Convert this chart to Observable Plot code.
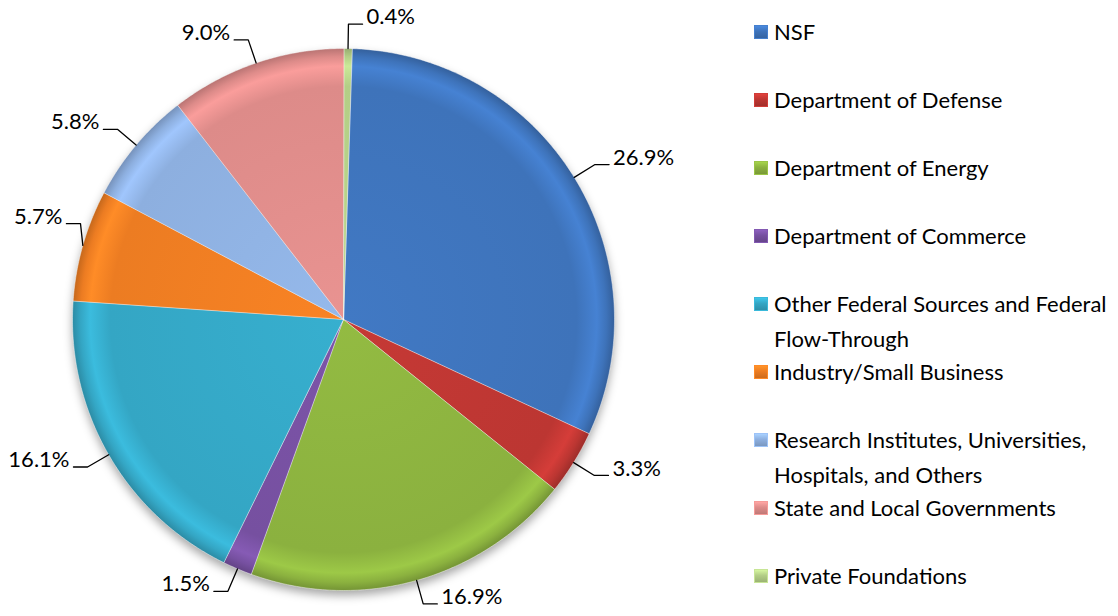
<!DOCTYPE html>
<html><head><meta charset="utf-8">
<script src="https://cdn.jsdelivr.net/npm/d3@7"></script>
<script src="https://cdn.jsdelivr.net/npm/@observablehq/plot@0.6"></script>
<style>
html,body{margin:0;padding:0;background:#fff;}
#wrap{position:relative;width:1118px;height:616px;display:flex;font-family:Lato,sans-serif;overflow:hidden;}
#chart{width:754px;height:616px;flex:none;}
#legend{width:364px;padding-top:14px;box-sizing:border-box;flex:none;}
.item{height:68px;display:flex;align-items:flex-start;font-size:22px;line-height:35px;color:#000;}
.sw{width:14px;height:14px;margin-top:11px;margin-right:6px;flex:none;box-sizing:border-box;}
.lab{width:344px;}
</style></head><body>
<div id="wrap"><div id="chart"></div><div id="legend"></div></div>
<script>
// ---- data ----
const categories = [
  "NSF",
  "Department of Defense",
  "Department of Energy",
  "Department of Commerce",
  "Other Federal Sources and Federal Flow-Through",
  "Industry/Small Business",
  "Research Institutes, Universities, Hospitals, and Others",
  "State and Local Governments",
  "Private Foundations"
];
const values = [26.9, 3.3, 16.9, 1.5, 16.1, 5.7, 5.8, 9.0, 0.4];
const valueLabels = ["26.9%", "3.3%", "16.9%", "1.5%", "16.1%", "5.7%", "5.8%", "9.0%", "0.4%"];
const colors = ["#3E73BA", "#BC3632", "#8BB13F", "#7650A0", "#34A6C4", "#EC7C22", "#8DAFDF", "#DD8B89", "#B3CE86"];

// ---- layout ----
const W = 754, H = 616, CX = 343, CY = 319, R = 271;
const startOffset = 1.8 * Math.PI / 180;
const elbowR = 1.09, tail = 0.052;
const minLeftElbow = (80 - CX) / R;   // keep left labels inside the picture

const data = categories.map((c, i) => ({category: c, value: values[i], label: valueLabels[i], color: colors[i]}));
const arcs = d3.pie().sort(null).value(d => d.value)
  .startAngle(startOffset).endAngle(startOffset + 2 * Math.PI)(data);

const slicePts = arcs.map(a => {
  const n = Math.max(2, Math.ceil((a.endAngle - a.startAngle) / (Math.PI / 360)));
  const pts = [{x: 0, y: 0}];
  for (let j = 0; j <= n; j++) {
    const t = a.startAngle + (a.endAngle - a.startAngle) * j / n;
    pts.push({x: Math.sin(t), y: Math.cos(t)});
  }
  return pts;
});
const disc = d3.range(0, 361, 2).map(d => ({x: Math.sin(d * Math.PI / 180), y: Math.cos(d * Math.PI / 180)}));

const leaderRows = [], rightText = [], leftText = [];
arcs.forEach((a, i) => {
  const m = (a.startAngle + a.endAngle) / 2;
  const s = Math.sin(m), c = Math.cos(m);
  const side = s >= 0 ? 1 : -1;
  let ex = elbowR * s, ey = elbowR * c;
  if (side < 0 && ex < minLeftElbow) { ex = minLeftElbow; ey = c + 0.08 * Math.sign(c); }
  leaderRows.push({k: i, x: s, y: c}, {k: i, x: ex, y: ey}, {k: i, x: ex + side * tail, y: ey});
  (side > 0 ? rightText : leftText).push({x: ex + side * tail, y: ey, text: a.data.label});
});

const xDomain = [-CX / R, (W - CX) / R];
const yDomain = [-(H - CY) / R, CY / R];

const svg = Plot.plot({
  width: W, height: H,
  marginTop: 0, marginRight: 0, marginBottom: 0, marginLeft: 0,
  style: {overflow: "visible"},
  x: {domain: xDomain, axis: null},
  y: {domain: yDomain, axis: null},
  marks: [
    Plot.line(disc, {x: "x", y: "y", curve: "linear-closed", fill: "#000", fillOpacity: 0.35, stroke: "none", dy: 5, className: "pieshadow"}),
    ...slicePts.map((pts, i) => Plot.line(pts, {
      x: "x", y: "y", curve: "linear-closed", fill: `url(#g${i})`,
      stroke: "#ffffff", strokeOpacity: 0.45, strokeWidth: 1
    })),
    Plot.line(leaderRows, {x: "x", y: "y", z: "k", stroke: "#000", strokeWidth: 1.3}),
    Plot.text(rightText, {x: "x", y: "y", text: "text", textAnchor: "start", dx: 4, dy: -7, fontSize: 22, fontFamily: "Lato", fill: "#000"}),
    Plot.text(leftText, {x: "x", y: "y", text: "text", textAnchor: "end", dx: -4, dy: -7, fontSize: 22, fontFamily: "Lato", fill: "#000"})
  ]
});

// gradients + shadow filter
const xs = svg.scale("x"), ys = svg.scale("y");
const pcx = xs.apply(0), pcy = ys.apply(0), pr = xs.apply(1) - xs.apply(0);
const defs = d3.select(svg).insert("defs", ":first-child");
colors.forEach((col, i) => {
  const base = d3.color(col);
  const g = defs.append("radialGradient").attr("id", `g${i}`)
    .attr("gradientUnits", "userSpaceOnUse")
    .attr("cx", pcx).attr("cy", pcy).attr("r", pr);
  [[0, base.brighter(0.15)], [0.86, base], [0.935, base.brighter(0.35)], [0.97, base], [1, base.darker(0.5)]]
    .forEach(([o, c]) => g.append("stop").attr("offset", o).attr("stop-color", c.formatHex()));
});
const f = defs.append("filter").attr("id", "sh").attr("x", "-20%").attr("y", "-20%").attr("width", "140%").attr("height", "140%");
f.append("feGaussianBlur").attr("stdDeviation", 5);
d3.select(svg).selectAll("g.pieshadow").attr("filter", "url(#sh)");

document.getElementById("chart").appendChild(svg);

// legend (HTML, right of the chart)
const legend = d3.select("#legend");
data.forEach(d => {
  const base = d3.color(d.color);
  const it = legend.append("div").attr("class", "item");
  it.append("div").attr("class", "sw")
    .style("background", `linear-gradient(to bottom, ${base.brighter(0.5).formatHex()}, ${base.formatHex()} 45%, ${base.darker(0.4).formatHex()})`)
    .style("border", `1px solid ${base.brighter(0.3).formatHex()}`);
  it.append("div").attr("class", "lab").text(d.category);
});
</script>
</body></html>
